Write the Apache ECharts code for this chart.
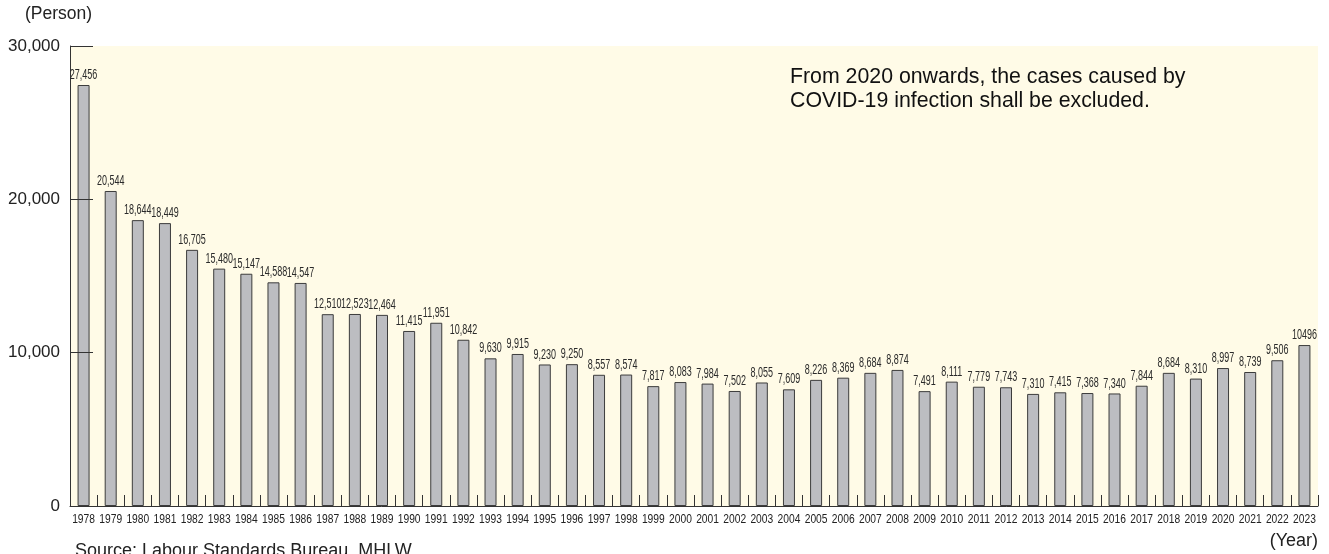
<!DOCTYPE html>
<html>
<head>
<meta charset="utf-8">
<script src="https://cdn.jsdelivr.net/npm/echarts@6/dist/echarts.min.js"></script>
<style>html,body{margin:0;padding:0;background:#fff}#c{width:1329px;height:554px}</style>
</head>
<body>
<div id="c"></div>
<script>
const years = ['1978','1979','1980','1981','1982','1983','1984','1985','1986','1987','1988','1989','1990','1991','1992','1993','1994','1995','1996','1997','1998','1999','2000','2001','2002','2003','2004','2005','2006','2007','2008','2009','2010','2011','2012','2013','2014','2015','2016','2017','2018','2019','2020','2021','2022','2023'];
const persons = [27456,20544,18644,18449,16705,15480,15147,14588,14547,12510,12523,12464,11415,11951,10842,9630,9915,9230,9250,8557,8574,7817,8083,7984,7502,8055,7609,8226,8369,8684,8874,7491,8111,7779,7743,7310,7415,7368,7340,7844,8684,8310,8997,8739,9506,10496];
const yTicks = [0,10000,20000,30000];

const sans = '"Liberation Sans",Arial,sans-serif';
function fmt(v, i){ return i === persons.length-1 ? String(v) : v.toLocaleString('en-US'); }

const chart = echarts.init(document.getElementById('c'), null, {renderer:'canvas'});
chart.setOption({
  animation:false,
  backgroundColor:'#ffffff',
  grid:{left:70,right:11,top:46,bottom:48,show:true,backgroundColor:'#fffbe7',borderWidth:0},
  xAxis:{
    type:'category', data:years,
    axisLine:{lineStyle:{color:'#333',width:1}},
    axisTick:{show:true,inside:true,length:11,interval:0,lineStyle:{color:'#333'}},
    axisLabel:{show:false}
  },
  yAxis:{
    type:'value', min:yTicks[0], max:yTicks[yTicks.length-1], interval:10000, z:3,
    axisLine:{show:true,lineStyle:{color:'#333',width:1}},
    axisTick:{show:true,inside:true,length:23,lineStyle:{color:'#333'}},
    splitLine:{show:false},
    axisLabel:{fontFamily:sans,fontSize:17,color:'#222',margin:10,
      formatter:v=>v.toLocaleString('en-US')}
  },
  series:[{
    type:'bar', data:persons, barWidth:12,
    itemStyle:{color:'#bcbdc1',borderColor:'#3c3c3c',borderWidth:1}
  },{
    type:'custom', z:4, silent:true,
    data: persons.map((v,i)=>[i,v]),
    renderItem:function(params, api){
      const i = api.value(0), v = api.value(1);
      const top = api.coord([i, v]);
      const base = api.coord([i, 0]);
      return {type:'group', children:[
        {type:'text', x:top[0], y:top[1]-10, scaleX:0.6,
          style:{text:fmt(v,i), font:'15px '+sans, fill:'#2a2a2a', align:'center', verticalAlign:'middle'}},
        {type:'text', x:base[0], y:base[1]+13, scaleX:0.76,
          style:{text:years[i], font:'13.5px '+sans, fill:'#222', align:'center', verticalAlign:'middle'}}
      ]};
    }
  }],
  graphic:[
    {type:'text',left:25,top:5,style:{text:'(Person)',font:'17.5px '+sans,fill:'#222'}},
    {type:'text',right:11,top:532,style:{text:'(Year)',font:'18px '+sans,fill:'#222'}},
    {type:'text',left:75,top:542,style:{text:'Source: Labour Standards Bureau, MHLW',font:'18px '+sans,fill:'#222'}},
    {type:'text',left:790,top:65,style:{text:'From 2020 onwards, the cases caused by\nCOVID-19 infection shall be excluded.',font:'21.3px '+sans,lineHeight:24,fill:'#111'}}
  ]
});
</script>
</body>
</html>
